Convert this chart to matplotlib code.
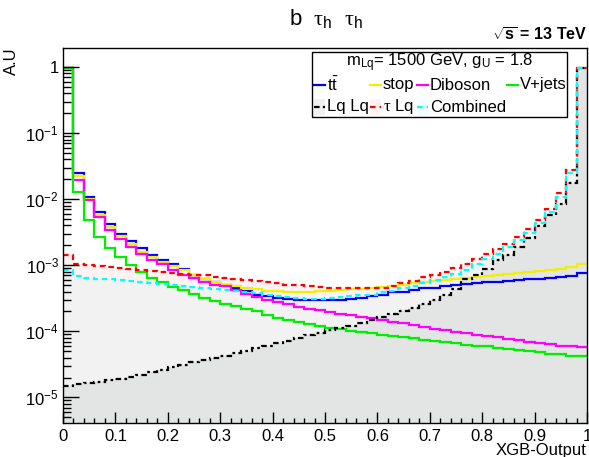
import numpy as np
import matplotlib
matplotlib.use("Agg")
import matplotlib.pyplot as plt
from matplotlib.lines import Line2D
from matplotlib.patches import Rectangle
from matplotlib.ticker import LogLocator, FixedLocator, MultipleLocator, NullFormatter

plt.rcParams['font.family'] = ['Liberation Sans', 'DejaVu Sans']
plt.rcParams['mathtext.fontset'] = 'custom'
plt.rcParams['mathtext.rm'] = 'Liberation Sans'
plt.rcParams['mathtext.it'] = 'Liberation Sans:italic'
plt.rcParams['mathtext.bf'] = 'Liberation Sans:bold'
plt.rcParams['mathtext.sf'] = 'Liberation Serif'

# 50 bins of XGB output, 0..1
edges = np.linspace(0, 1, 51)

ttbar = [0.96, 0.025, 0.0108, 0.0063, 0.0042, 0.0030, 0.0023, 0.0018, 0.00141, 0.00122,
         0.00103, 0.00089, 7.2e-4, 6.3e-4, 5.6e-4, 5.1e-4, 4.55e-4, 4.1e-4, 3.6e-4, 3.4e-4,
         3.2e-4, 3.1e-4, 3.0e-4, 2.95e-4, 2.95e-4, 2.95e-4, 3.0e-4, 3.05e-4, 3.2e-4, 3.4e-4,
         3.6e-4, 3.9e-4, 4.0e-4, 4.2e-4, 4.45e-4, 4.6e-4, 4.8e-4, 5.0e-4, 5.2e-4, 5.35e-4,
         5.5e-4, 5.65e-4, 5.8e-4, 5.95e-4, 6.1e-4, 6.3e-4, 6.5e-4, 6.7e-4, 6.9e-4, 7.6e-4]
stop = [0.96, 0.0224, 0.0101, 0.0057, 0.0038, 0.0028, 0.0021, 0.0016, 0.00134, 0.00111,
        9.6e-4, 8.5e-4, 7.2e-4, 6.3e-4, 5.6e-4, 5.1e-4, 4.8e-4, 4.5e-4, 4.3e-4, 4.1e-4,
        4.05e-4, 4.0e-4, 4.0e-4, 4.0e-4, 4.05e-4, 4.1e-4, 4.2e-4, 4.3e-4, 4.4e-4, 4.6e-4,
        4.75e-4, 4.9e-4, 5.1e-4, 5.3e-4, 5.5e-4, 5.75e-4, 6.0e-4, 6.3e-4, 6.5e-4, 6.7e-4,
        6.9e-4, 7.1e-4, 7.3e-4, 7.6e-4, 7.8e-4, 8.1e-4, 8.4e-4, 8.9e-4, 9.5e-4, 1.05e-3]
diboson = [0.96, 0.0195, 0.0097, 0.0054, 0.0034, 0.0025, 0.0019, 0.00146, 0.00119, 0.00103,
           8.5e-4, 7.1e-4, 6.4e-4, 5.6e-4, 5.1e-4, 4.8e-4, 4.2e-4, 3.7e-4, 3.3e-4, 3.0e-4,
           2.8e-4, 2.6e-4, 2.35e-4, 2.2e-4, 2.1e-4, 1.95e-4, 1.85e-4, 1.75e-4, 1.65e-4, 1.57e-4,
           1.48e-4, 1.4e-4, 1.32e-4, 1.25e-4, 1.18e-4, 1.1e-4, 1.03e-4, 9.7e-5, 9.3e-5, 8.9e-5,
           8.5e-5, 8.1e-5, 7.7e-5, 7.3e-5, 7.0e-5, 6.7e-5, 6.4e-5, 6.1e-5, 5.9e-5, 5.7e-5]
vjets = [0.96, 0.0129, 0.0049, 0.0027, 0.0018, 0.00132, 0.00101, 8.0e-4, 6.5e-4, 5.6e-4,
         4.7e-4, 4.2e-4, 3.65e-4, 3.2e-4, 2.9e-4, 2.6e-4, 2.4e-4, 2.2e-4, 2.0e-4, 1.75e-4,
         1.6e-4, 1.5e-4, 1.4e-4, 1.3e-4, 1.2e-4, 1.13e-4, 1.07e-4, 1.02e-4, 9.7e-5, 9.3e-5,
         8.9e-5, 8.5e-5, 8.1e-5, 7.8e-5, 7.5e-5, 7.2e-5, 6.9e-5, 6.6e-5, 6.3e-5, 6.1e-5,
         5.9e-5, 5.6e-5, 5.4e-5, 5.2e-5, 5.0e-5, 4.8e-5, 4.6e-5, 4.5e-5, 4.3e-5, 4.2e-5]
lqlq = [1.5e-5, 1.57e-5, 1.65e-5, 1.74e-5, 1.83e-5, 1.93e-5, 2.05e-5, 2.2e-5, 2.4e-5, 2.6e-5,
        2.85e-5, 3.1e-5, 3.4e-5, 3.7e-5, 4.0e-5, 4.3e-5, 4.7e-5, 5.1e-5, 5.5e-5, 6.0e-5,
        6.6e-5, 7.2e-5, 8.0e-5, 8.7e-5, 9.5e-5, 1.04e-4, 1.12e-4, 1.22e-4, 1.33e-4, 1.48e-4,
        1.62e-4, 1.8e-4, 2.0e-4, 2.25e-4, 2.55e-4, 2.95e-4, 3.6e-4, 4.3e-4, 6.1e-4, 7.1e-4,
        8.9e-4, 1.2e-3, 1.42e-3, 1.9e-3, 2.6e-3, 3.9e-3, 5.7e-3, 8.6e-3, 0.0174, 0.95]
taulq = [1.42e-3, 1.05e-3, 1.0e-3, 9.6e-4, 9.3e-4, 9.0e-4, 8.7e-4, 8.5e-4, 8.2e-4, 7.9e-4,
         7.7e-4, 7.4e-4, 7.2e-4, 7.0e-4, 6.7e-4, 6.5e-4, 6.2e-4, 6.0e-4, 5.8e-4, 5.5e-4,
         5.3e-4, 5.1e-4, 4.95e-4, 4.85e-4, 4.7e-4, 4.6e-4, 4.5e-4, 4.45e-4, 4.45e-4, 4.5e-4,
         4.6e-4, 4.8e-4, 5.3e-4, 5.7e-4, 6.6e-4, 7.0e-4, 8.0e-4, 9.1e-4, 1.03e-3, 1.23e-3,
         1.5e-3, 1.75e-3, 2.1e-3, 2.65e-3, 3.5e-3, 4.8e-3, 7.2e-3, 0.0125, 0.028, 0.97]
combined = [8.5e-4, 6.8e-4, 6.5e-4, 6.3e-4, 6.1e-4, 5.9e-4, 5.7e-4, 5.5e-4, 5.35e-4, 5.2e-4,
            5.05e-4, 4.9e-4, 4.7e-4, 4.55e-4, 4.4e-4, 4.2e-4, 4.05e-4, 3.9e-4, 3.75e-4, 3.6e-4,
            3.45e-4, 3.3e-4, 3.2e-4, 3.1e-4, 3.1e-4, 3.15e-4, 3.3e-4, 3.4e-4, 3.5e-4, 3.6e-4,
            3.9e-4, 4.1e-4, 4.45e-4, 4.9e-4, 5.3e-4, 5.9e-4, 6.6e-4, 7.4e-4, 8.6e-4, 1.03e-3,
            1.26e-3, 1.5e-3, 1.9e-3, 2.4e-3, 3.1e-3, 4.3e-3, 6.4e-3, 0.0108, 0.0245, 0.97]

bkg_names = ['t$\\bar{\\rm t}$', 'stop', 'Diboson', 'V+jets']
bkg_vals = [ttbar, stop, diboson, vjets]
bkg_cols = ['#0000ff', '#f0f000', '#ff00ff', '#00ee00']
sig_names = ['Lq Lq', '$\\mathsf{\\tau}$ Lq', 'Combined']
sig_vals = [lqlq, taulq, combined]
sig_cols = ['black', '#ff0000', '#00ffff']
sig_alpha = [0.06, 0.05, 0.05]
sig_dash = [(0, (2.5, 1.5, 1.2, 1.5)), (0, (2.5, 1.8)), (0, (2.5, 1.8))]

W, H = 589, 457
fig = plt.figure(figsize=(W / 100, H / 100), dpi=100)
ax = fig.add_axes([63 / W, 1 - 423 / H, (587 - 63) / W, (423 - 48) / H])
ymin, ymax = 4.1e-6, 1.94
ax.set_yscale('log')
ax.set_xlim(0, 1)
ax.set_ylim(ymin, ymax)

# signal fills first
for v, c, a in zip(sig_vals, sig_cols, sig_alpha):
    ax.stairs(v, edges, baseline=1e-9, fill=True, color=c, alpha=a, lw=0)
for v, c in zip(bkg_vals, bkg_cols):
    ax.stairs(v, edges, baseline=None, color=c, lw=1.6)
for v, c, d in zip(sig_vals, sig_cols, sig_dash):
    ax.stairs(v, edges, baseline=None, color=c, lw=1.6, linestyle=d)

# ticks, ROOT style
ax.xaxis.set_minor_locator(MultipleLocator(0.02))
ax.set_xticks(np.arange(0, 1.01, 0.1))
ax.set_xticklabels(['0', '0.1', '0.2', '0.3', '0.4', '0.5', '0.6', '0.7', '0.8', '0.9', '1'])
ax.yaxis.set_major_locator(FixedLocator([1e-5, 1e-4, 1e-3, 1e-2, 1e-1, 1]))
ax.set_yticklabels(['10$^{-5}$', '10$^{-4}$', '10$^{-3}$', '10$^{-2}$', '10$^{-1}$', '1'])
ax.yaxis.set_minor_locator(LogLocator(base=10, subs=np.arange(2, 10), numticks=20))
ax.yaxis.set_minor_formatter(NullFormatter())
ax.tick_params(axis='x', which='major', direction='in', length=7.6, width=1, labelsize=12, pad=4)
ax.tick_params(axis='x', which='minor', direction='in', length=3.8, width=1)
ax.tick_params(axis='y', which='major', direction='in', length=11.5, width=1, labelsize=12, pad=3)
ax.tick_params(axis='y', which='minor', direction='in', length=5.8, width=1)
for s in ax.spines.values():
    s.set_linewidth(1.0)

def fx(x):
    return x / W

def fy(y):
    return 1 - y / H

fig.text(fx(326), fy(25), 'b  $\\mathsf{\\tau}_{\\rm h}$  $\\mathsf{\\tau}_{\\rm h}$', ha='center',
         va='baseline', fontsize=16)
fig.text(fx(587), fy(41), '$\\sqrt{\\mathbf{s}}$ = 13 TeV', ha='right', va='baseline',
         fontsize=11.5, fontweight='bold')
fig.text(fx(11), fy(47), 'A.U', rotation=90, ha='center', va='top', fontsize=12)
fig.text(fx(587), fy(455), 'XGB-Output', ha='right', va='baseline', fontsize=12)

# legend box
fig.patches.append(Rectangle((fx(312), fy(117)), fx(567) - fx(312), fy(52) - fy(117),
                             transform=fig.transFigure, facecolor='white', edgecolor='black',
                             lw=1.0, zorder=5))
fig.text(fx(440), fy(63), 'm$_{\\rm Lq}$= 1500 GeV, g$_{\\rm U}$ = 1.8', ha='center', va='center',
         fontsize=12, zorder=6)
col_x = [314, 370, 417, 507]
for i, (name, c) in enumerate(zip(bkg_names, bkg_cols)):
    x0 = col_x[i]
    fig.lines.append(Line2D([fx(x0), fx(x0 + 11)], [fy(85), fy(85)], transform=fig.transFigure,
                            color=c, lw=1.6, zorder=6))
    fig.text(fx(x0 + 13), fy(85), name, ha='left', va='center', fontsize=12, zorder=6)
for i, (name, c, a, d) in enumerate(zip(sig_names, sig_cols, sig_alpha, sig_dash)):
    x0 = col_x[i]
    fig.patches.append(Rectangle((fx(x0), fy(115)), fx(x0 + 11) - fx(x0), fy(99) - fy(115),
                                 transform=fig.transFigure, facecolor=c, alpha=a, lw=0, zorder=6))
    fig.lines.append(Line2D([fx(x0), fx(x0 + 11)], [fy(107), fy(107)], transform=fig.transFigure,
                            color=c, lw=1.6, linestyle=d, zorder=7))
    fig.text(fx(x0 + 13), fy(107), name, ha='left', va='center', fontsize=12, zorder=6)

fig.savefig('out.png', dpi=100)
